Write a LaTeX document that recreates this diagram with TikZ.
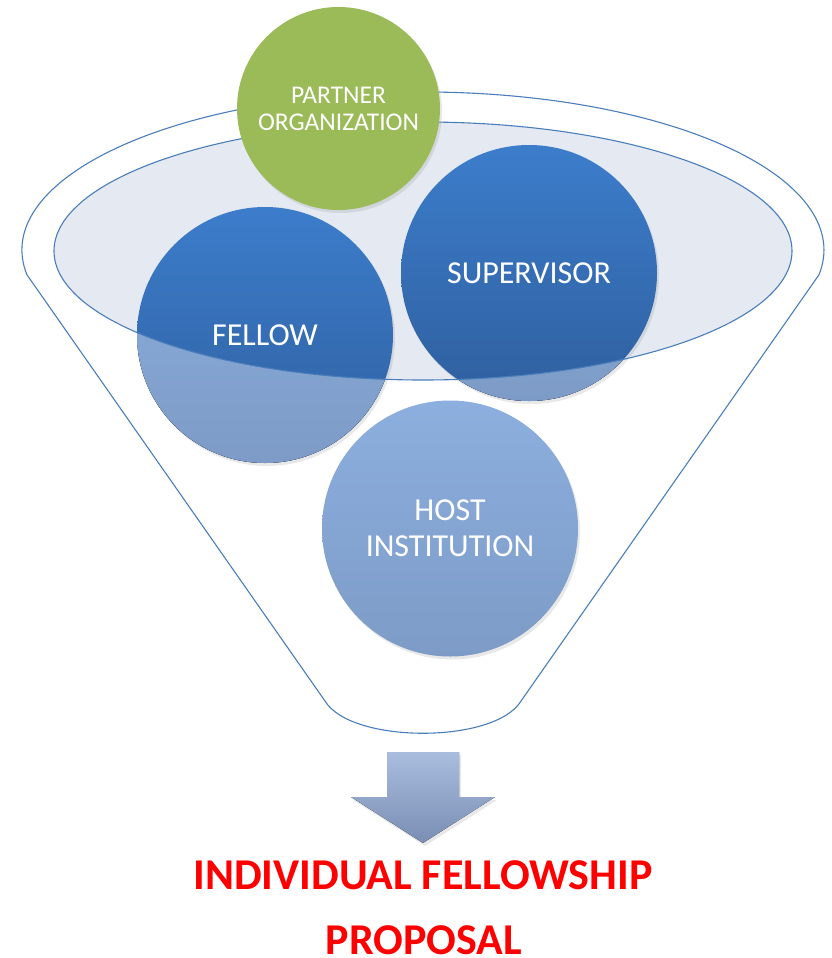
\documentclass[tikz,border=0pt]{standalone}
\usepackage{fontspec}
\setmainfont{Carlito}
\usetikzlibrary{shadows}
\definecolor{lineblue}{HTML}{4A7EBB}
\definecolor{openfill}{HTML}{E4E9F2}
\definecolor{darktop}{HTML}{3C7DCB}
\definecolor{darkbot}{HTML}{2F5F9F}
\definecolor{fadetop}{HTML}{8CAFDF}
\definecolor{fadebot}{HTML}{7D9BC6}
\definecolor{leaf}{HTML}{9BBB59}
\definecolor{arrtop}{HTML}{A9BDDF}
\definecolor{arrbot}{HTML}{7A8EB4}
\definecolor{titlered}{HTML}{FF0000}
\begin{document}
\begin{tikzpicture}[x=1pt,y=1pt,
  softshadow/.style={drop shadow={opacity=0.18, shadow xshift=2pt, shadow yshift=-3pt}},
  ball/.style={circle, inner sep=0pt, minimum size=256pt, text=white,
    font=\fontsize{32}{36}\selectfont, align=center},
  darkball/.style={ball, top color=darktop, bottom color=darkbot, softshadow},
  fadeball/.style={ball, top color=fadetop, bottom color=fadebot, softshadow},
  fadepart/.style={top color=fadetop, bottom color=fadebot},
  greenball/.style={circle, inner sep=0pt, minimum size=203pt, fill=leaf, text=white,
    font=\fontsize{25.5}{27}\selectfont, align=center, softshadow},
  funnelline/.style={draw=lineblue, line width=1.1pt},
  titletext/.style={text=titlered, font=\fontsize{44}{47}\bfseries\selectfont, inner sep=0pt}
]
\useasboundingbox (0,0) rectangle (832,-958);

% opening of the funnel
\fill[openfill] (423,-251) ellipse [x radius=369pt, y radius=129pt];

% circles
\node[darkball] (fellow) at (265,-335) {FELLOW};
\node[darkball] (supervisor) at (529,-273) {SUPERVISOR};
\node[fadeball] (host) at (450,-528.5) {HOST\\INSTITUTION};

% parts of the circles inside the funnel body appear faded
\begin{scope}[even odd rule]
  \clip (0,0) rectangle (832,-958)
    (423,-251) ellipse [x radius=369pt, y radius=129pt];
  \fill[fadepart] (fellow.center) circle [radius=128pt];
  \fill[fadepart] (supervisor.center) circle [radius=128pt];
\end{scope}

% outlines
\draw[funnelline] (423,-251) ellipse [x radius=369pt, y radius=129pt];
\draw[funnelline] (26.9,-274.7) arc [start angle=189, end angle=-9, x radius=401pt, y radius=158pt]
  -- (521,-701) .. controls (495,-744) and (351,-744) .. (325,-701) -- cycle;

% partner organization
\node[greenball] (partner) at (338.5,-108.5) {PARTNER\\ORGANIZATION};

% arrow
\fill[top color=arrtop, bottom color=arrbot, softshadow]
  (387,-752) -- (459,-752) -- (459,-797) -- (495,-797) -- (423,-843)
  -- (351,-797) -- (387,-797) -- cycle;

% title
\node[titletext] (title1) at (423,-875) {INDIVIDUAL FELLOWSHIP};
\node[titletext] (title2) at (424,-940) {PROPOSAL};
\end{tikzpicture}
\end{document}
